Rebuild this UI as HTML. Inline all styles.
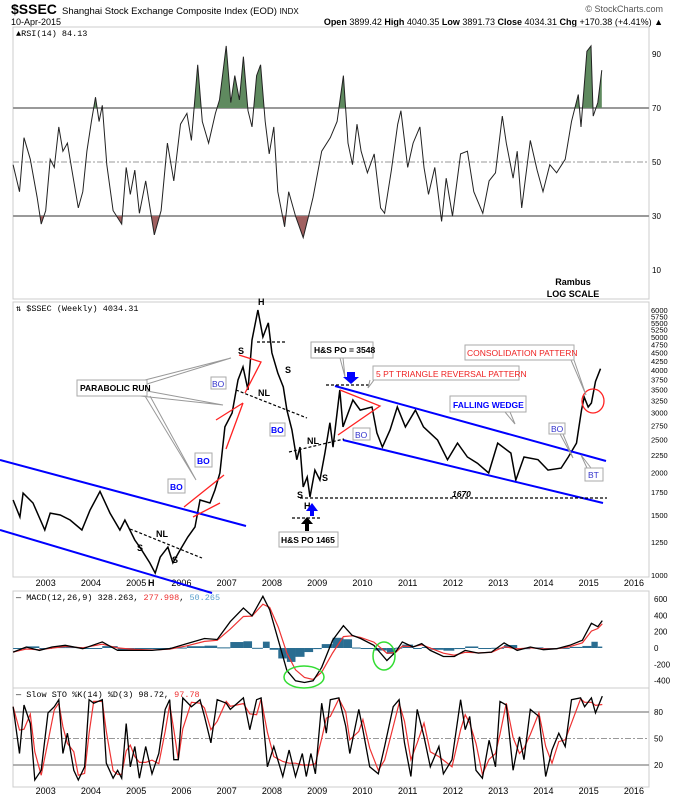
<!DOCTYPE html>
<html><head><meta charset="utf-8"><style>
body{margin:0;background:#fff;}
svg{display:block;font-family:"Liberation Sans",sans-serif;}
</style></head><body>
<svg id="chart" width="674" height="800" viewBox="0 0 674 800" xmlns="http://www.w3.org/2000/svg">
<g>
<text x="11" y="14" font-size="14" font-weight="bold">$SSEC</text>
<text x="62" y="14" font-size="9.5">Shanghai Stock Exchange Composite Index (EOD) <tspan font-size="8">INDX</tspan></text>
<text x="11" y="25" font-size="9">10-Apr-2015</text>
<text x="663" y="12" font-size="9" fill="#555" text-anchor="end">© StockCharts.com</text>
<text x="663" y="25" font-size="9" text-anchor="end"><tspan font-weight="bold">Open</tspan> 3899.42 <tspan font-weight="bold">High</tspan> 4040.35 <tspan font-weight="bold">Low</tspan> 3891.73 <tspan font-weight="bold">Close</tspan> 4034.31 <tspan font-weight="bold">Chg</tspan> +170.38 (+4.41%) ▲</text>
</g>
<rect x="13" y="27" width="636" height="272" fill="none" stroke="#ccc"/>
<rect x="13" y="302" width="636" height="275" fill="none" stroke="#ccc"/>
<rect x="13" y="591" width="636" height="97" fill="none" stroke="#ccc"/>
<rect x="13" y="688" width="636" height="99" fill="none" stroke="#ccc"/>
<g id="dyn"></g>
</svg>
<script>
// ---------- DATA ----------
const priceDates=[2002.28,2002.43,2002.50,2002.72,2002.98,2003.10,2003.32,2003.54,2003.80,2003.98,2004.20,2004.42,2004.64,2004.75,2004.97,2005.08,2005.30,2005.42,2005.53,2005.70,2005.81,2005.97,2006.14,2006.30,2006.41,2006.63,2006.74,2006.85,2006.96,2007.12,2007.25,2007.36,2007.47,2007.56,2007.69,2007.80,2007.92,2008.00,2008.13,2008.25,2008.33,2008.44,2008.55,2008.62,2008.69,2008.78,2008.84,2008.95,2009.06,2009.17,2009.28,2009.35,2009.50,2009.57,2009.79,2009.95,2010.21,2010.32,2010.44,2010.61,2010.77,2010.95,2011.17,2011.35,2011.66,2011.88,2012.10,2012.32,2012.54,2012.79,2012.99,2013.28,2013.39,2013.57,2013.88,2014.10,2014.39,2014.55,2014.73,2014.84,2014.90,2014.99,2015.06,2015.15,2015.26];
const priceValues=[1660,1480,1740,1627,1356,1520,1500,1450,1356,1550,1760,1520,1356,1450,1267,1208,1085,1013,1129,1208,1085,1184,1293,1383,1660,1627,1775,1993,2722,2990,3737,4085,3494,4900,6000,5000,5500,4490,3920,3565,3050,2670,2180,2375,1813,1940,1695,2033,1900,2280,2800,2375,3494,2722,3265,3050,3115,2614,2375,2670,3115,2722,3050,2722,2490,2180,2440,2220,2130,1993,2440,2280,1900,2220,2180,2033,2060,2220,2440,3050,3330,3115,3200,3700,4034];
const priceTicks=[1000,1250,1500,1750,2000,2250,2500,2750,3000,3250,3500,3750,4000,4250,4500,4750,5000,5250,5500,5750,6000];
const yearTicks=[2003,2004,2005,2006,2007,2008,2009,2010,2011,2012,2013,2014,2015,2016];

const rsiDates=[2002.28,2002.42,2002.52,2002.66,2002.81,2002.90,2003.0,2003.10,2003.19,2003.29,2003.38,2003.48,2003.58,2003.72,2003.82,2003.91,2004.01,2004.10,2004.18,2004.25,2004.35,2004.49,2004.68,2004.78,2004.87,2004.97,2005.07,2005.21,2005.40,2005.55,2005.69,2005.83,2005.98,2006.12,2006.22,2006.36,2006.46,2006.60,2006.75,2006.84,2006.99,2007.09,2007.18,2007.28,2007.37,2007.47,2007.56,2007.66,2007.75,2007.85,2007.94,2008.04,2008.13,2008.28,2008.37,2008.52,2008.69,2008.81,2008.91,2009.10,2009.29,2009.44,2009.58,2009.68,2009.78,2009.88,2009.97,2010.11,2010.26,2010.40,2010.49,2010.64,2010.78,2010.85,2011.0,2011.12,2011.27,2011.36,2011.46,2011.60,2011.75,2011.85,2011.99,2012.17,2012.32,2012.46,2012.66,2012.80,2012.94,2013.09,2013.18,2013.33,2013.42,2013.52,2013.71,2013.86,2013.99,2014.14,2014.29,2014.48,2014.62,2014.77,2014.83,2014.96,2015.05,2015.10,2015.20,2015.29];
const rsiValues=[49,39,59,51,37,27,32,51,48,63,54,57,47,33,39,54,65,74,65,71,49,32,27,48,38,47,31,43,23,32,57,43,64,68,58,86,65,57,68,73,93,72,82,73,89,69,63,82,86,65,53,63,39,26,39,30,22,30,37,54,59,65,82,57,49,64,54,46,53,33,31,47,64,69,48,57,63,48,38,48,28,44,30,53,54,39,31,43,46,67,57,44,54,33,58,47,39,49,46,51,65,75,63,91,93,67,72,84];
const rsiTicks=[10,30,50,70,90];

const macdDates=[2002.28,2002.57,2002.86,2003.14,2003.43,2003.82,2004.25,2004.59,2004.97,2005.35,2005.74,2006.12,2006.51,2006.79,2007.08,2007.37,2007.56,2007.80,2007.95,2008.14,2008.33,2008.52,2008.72,2008.91,2009.10,2009.34,2009.58,2009.77,2009.96,2010.25,2010.54,2010.73,2010.88,2011.12,2011.31,2011.50,2011.79,2012.03,2012.27,2012.56,2012.85,2013.13,2013.42,2013.71,2014.00,2014.29,2014.58,2014.86,2015.06,2015.20,2015.30];
const macdValues=[-50,12,-29,12,33,-8,75,-29,-29,-29,-8,54,116,104,323,489,393,633,468,95,-277,-402,-422,-402,-236,95,273,157,116,33,-153,-50,75,12,54,-29,-104,-104,-29,-62,-50,62,-29,12,-21,-8,33,95,302,261,335];
const macdTicks=[-400,-200,0,200,400,600];

const stoDates=[2002.28,2002.42,2002.52,2002.66,2002.76,2002.90,2003.05,2003.19,2003.29,2003.38,2003.48,2003.62,2003.72,2003.86,2003.96,2004.06,2004.25,2004.34,2004.49,2004.59,2004.68,2004.78,2004.87,2004.97,2005.07,2005.21,2005.35,2005.50,2005.64,2005.74,2005.83,2005.93,2006.03,2006.22,2006.41,2006.51,2006.65,2006.79,2006.99,2007.08,2007.37,2007.51,2007.66,2007.76,2007.90,2008.04,2008.24,2008.38,2008.52,2008.67,2008.76,2008.86,2008.96,2009.10,2009.20,2009.29,2009.48,2009.63,2009.72,2009.92,2010.01,2010.16,2010.35,2010.49,2010.68,2010.81,2010.93,2011.07,2011.21,2011.36,2011.50,2011.69,2011.79,2011.98,2012.17,2012.27,2012.37,2012.51,2012.65,2012.80,2012.94,2013.04,2013.18,2013.33,2013.47,2013.57,2013.71,2013.90,2014.05,2014.19,2014.34,2014.48,2014.62,2014.82,2014.91,2015.06,2015.15,2015.30];
const stoValues=[86,33,88,67,3,14,79,86,94,33,56,14,3,18,94,90,94,22,5,14,5,67,18,41,5,41,10,33,83,94,26,26,96,86,94,75,45,94,90,83,96,60,94,96,18,41,7,37,7,33,7,33,10,90,56,94,96,64,33,83,60,18,10,41,86,94,45,7,83,52,18,41,10,26,94,60,75,14,5,48,18,92,88,14,52,26,83,75,7,37,56,41,94,96,86,96,79,98];
const stoTicks=[20,50,80];

// ---------- AXES ----------
const X0=45.7, XS=45.25;
function xOf(yr){return X0+(yr-2003)*XS;}
function yPrice(p){return 575-147.9*Math.log(p/1000);}
function yRsi(v){return 162-(v-50)*2.7;}
function yMacd(v){return 648-v*0.0817;}
function ySto(v){return 765-(v-20)*0.883;}

const NS='http://www.w3.org/2000/svg';
const root=document.getElementById('dyn');
function mk(tag,attrs,parent){const e=document.createElementNS(NS,tag);for(const k in attrs)e.setAttribute(k,attrs[k]);(parent||root).appendChild(e);return e;}
function pts(ds,vs,fy){return ds.map((d,i)=>xOf(d).toFixed(1)+','+fy(vs[i]).toFixed(1)).join(' ');}

[586,794].forEach(function(yy){yearTicks.forEach(function(yr){
 const t=mk('text',{x:xOf(yr),y:yy,'font-size':9,'text-anchor':'middle'});t.textContent=yr;
 
 
});});

// ----- RSI -----
rsiTicks.forEach(function(v){
 const l=mk('line',{x1:13,x2:649,y1:yRsi(v),y2:yRsi(v),stroke:'#999','stroke-width':(v===30||v===70)?2:1,'stroke-dasharray':v===50?'6,2,2,2':'none'});
 if(v===10||v===90){l.setAttribute('stroke','none');}
 
 
 const t=mk('text',{x:652,y:yRsi(v)+3,'font-size':8});t.textContent=v;
 
 
});
const defs=mk('defs',{});
const c1=mk('clipPath',{id:'above70'},defs);mk('rect',{x:13,y:27,width:636,height:yRsi(70)-27},c1);
const c2=mk('clipPath',{id:'below30'},defs);mk('rect',{x:13,y:yRsi(30),width:636,height:60},c2);
const rsiPts=pts(rsiDates,rsiValues,yRsi);
const fa=mk('polygon',{points:rsiPts+' '+xOf(rsiDates[rsiDates.length-1])+','+yRsi(70)+' '+xOf(rsiDates[0])+','+yRsi(70),fill:'#5f8a5f','clip-path':'url(#above70)'});


const fb=mk('polygon',{points:rsiPts+' '+xOf(rsiDates[rsiDates.length-1])+','+yRsi(30)+' '+xOf(rsiDates[0])+','+yRsi(30),fill:'#a06060','clip-path':'url(#below30)'});


const rl=mk('polyline',{points:rsiPts,fill:'none',stroke:'#222','stroke-width':1});


(function(){const t=mk('text',{x:16,y:36,'font-size':8.5,'font-family':'Liberation Mono, monospace'});t.textContent='▲RSI(14) 84.13';


const r=mk('text',{x:573,y:285,'font-size':9,'font-weight':'bold','text-anchor':'middle'});r.textContent='Rambus';


const s=mk('text',{x:573,y:297,'font-size':9,'font-weight':'bold','text-anchor':'middle'});s.textContent='LOG SCALE';

})();

// ----- PRICE -----
priceTicks.forEach(function(p){const t=mk('text',{x:651,y:yPrice(p)+3,'font-size':7.5});t.textContent=p;
 
 });
const pl=mk('polyline',{points:pts(priceDates,priceValues,yPrice),fill:'none',stroke:'#000','stroke-width':1.5});


(function(){const t=mk('text',{x:16,y:311,'font-size':8.5,'font-family':'Liberation Mono, monospace'});t.textContent='⇅ $SSEC (Weekly) 4034.31';

})();

// ----- MACD -----
macdTicks.forEach(function(v){const t=mk('text',{x:654,y:yMacd(v)+3,'font-size':8});t.textContent=v;
 
 });
const macdSignal=[];let ema=macdValues[0];
macdValues.forEach(function(v){ema=ema+0.6*(v-ema);macdSignal.push(ema);});
macdValues.forEach(function(v,i){
 if(i===macdValues.length-1)return;
 const h=(v-macdSignal[i])*0.8;const x1=xOf(macdDates[i]),x2=xOf(macdDates[i+1]);
 const r=mk('rect',{x:x1,width:x2-x1,y:Math.min(yMacd(0),yMacd(h)),height:Math.max(1,Math.abs(yMacd(h)-yMacd(0))),fill:'#2a6d91'});
 
 
});
const ms=mk('polyline',{points:pts(macdDates,macdSignal,yMacd),fill:'none',stroke:'#e33','stroke-width':1.2});


const ml=mk('polyline',{points:pts(macdDates,macdValues,yMacd),fill:'none',stroke:'#000','stroke-width':1.3});


(function(){const t=mk('text',{x:16,y:600,'font-size':8.5,'font-family':'Liberation Mono, monospace'});
t.innerHTML='— MACD(12,26,9) 328.263, <tspan fill="#e33">277.998</tspan>, <tspan fill="#5aa0cc">50.265</tspan>';


const e1=mk('ellipse',{cx:304,cy:677,rx:20,ry:11,fill:'none',stroke:'#3d3','stroke-width':1.5});


const e2=mk('ellipse',{cx:384,cy:656,rx:11,ry:14,fill:'none',stroke:'#3d3','stroke-width':1.5});

})();

// ----- STO -----
stoTicks.forEach(function(v){
 const l=mk('line',{x1:13,x2:649,y1:ySto(v),y2:ySto(v),stroke:'#999','stroke-width':v===50?1:1.5,'stroke-dasharray':v===50?'6,2,2,2':'none'});
 
 
 const t=mk('text',{x:654,y:ySto(v)+3,'font-size':8});t.textContent=v;
 
 
});
const stoD=stoValues.map(function(v,i){const a=stoValues.slice(Math.max(0,i-1),i+1);return a.reduce((s,x)=>s+x,0)/a.length;});
const sd=mk('polyline',{points:pts(stoDates,stoD,ySto),fill:'none',stroke:'#e33','stroke-width':1.2});


const sk=mk('polyline',{points:pts(stoDates,stoValues,ySto),fill:'none',stroke:'#000','stroke-width':1.3});


(function(){const t=mk('text',{x:16,y:697,'font-size':8.5,'font-family':'Liberation Mono, monospace'});
t.innerHTML='— Slow STO %K(14) %D(3) 98.72, <tspan fill="#e33">97.78</tspan>';

})();
</script>
<svg width="674" height="800" viewBox="0 0 674 800" style="position:absolute;left:0;top:0" font-family="Liberation Sans, sans-serif">
<g stroke="#00f" stroke-width="2">
<line x1="0" y1="460" x2="246" y2="526"/>
<line x1="0" y1="530" x2="212" y2="593"/>
<line x1="335" y1="386" x2="606" y2="461"/>
<line x1="343" y1="440" x2="603" y2="503"/>
</g>
<g stroke="#000" stroke-width="1.2" stroke-dasharray="3,2">
<line x1="300" y1="498" x2="607" y2="498"/>
<line x1="292" y1="518" x2="322" y2="518"/>
<line x1="326" y1="385" x2="370" y2="385"/>
<line x1="236" y1="390" x2="307" y2="418"/>
<line x1="257" y1="342" x2="285" y2="342"/>
<line x1="289" y1="452" x2="344" y2="439"/>
<line x1="130" y1="529" x2="202" y2="558"/>
</g>
<g stroke="#f22" stroke-width="1.3" fill="none">
<polyline points="239,355 261,362 245,393"/>
<line x1="216" y1="420" x2="243" y2="403"/>
<line x1="226" y1="449" x2="243" y2="403"/>
<line x1="184" y1="507" x2="224" y2="475"/>
<line x1="193" y1="517" x2="220" y2="503"/>
<polyline points="340,390 380,406 338,435"/>
<ellipse cx="593" cy="401" rx="11" ry="12"/>
</g>
<g stroke="#999" stroke-width="1" fill="none">
<polyline points="145,380 231,358 147,384" /><polyline points="140,396 223,405 147,391"/><polyline points="145,396 196,480 150,396"/>
<polyline points="340,358 345,377 343,358"/><polyline points="370,380 368,388 374,380"/><polyline points="505,412 515,424 510,412"/>
<polyline points="571,360 586,395 574,360"/><polyline points="560,434 573,458 563,434"/><polyline points="587,468 581,455 591,468"/>
</g>
<g font-size="8.5" font-weight="bold">
<rect x="77" y="380" width="70" height="16" fill="#fff" stroke="#aaa"/><text x="80" y="391">PARABOLIC RUN</text>
<rect x="311" y="342" width="62" height="16" fill="#fff" stroke="#aaa"/><text x="314" y="353">H&amp;S PO = 3548</text>
<rect x="279" y="532" width="59" height="15" fill="#fff" stroke="#aaa"/><text x="281" y="543">H&amp;S PO 1465</text>
<rect x="373" y="366" width="146" height="14" fill="#fff" stroke="#aaa"/><text x="376" y="377" fill="#e22" font-weight="normal">5 PT TRIANGLE REVERSAL PATTERN</text>
<rect x="465" y="345" width="109" height="15" fill="#fff" stroke="#aaa"/><text x="467" y="356" fill="#e22" font-weight="normal">CONSOLIDATION PATTERN</text>
<rect x="450" y="396" width="76" height="16" fill="#fff" stroke="#aaa"/><text x="453" y="408" fill="#00f">FALLING WEDGE</text>
<g fill="#00f"><rect x="211" y="377" width="15" height="12" fill="#fff" stroke="#aaa"/><text x="212" y="387" fill="#33c" font-weight="normal">BO</text>
<rect x="270" y="423" width="15" height="13" fill="#fff" stroke="#aaa"/><text x="271" y="433">BO</text>
<rect x="195" y="453" width="17" height="14" fill="#fff" stroke="#aaa"/><text x="197" y="464">BO</text>
<rect x="168" y="479" width="17" height="14" fill="#fff" stroke="#aaa"/><text x="170" y="490">BO</text>
<rect x="353" y="428" width="17" height="12" fill="#fff" stroke="#aaa"/><text x="355" y="438" fill="#33c" font-weight="normal">BO</text>
<rect x="549" y="423" width="16" height="11" fill="#fff" stroke="#aaa"/><text x="551" y="432" fill="#33c" font-weight="normal">BO</text>
<rect x="585" y="468" width="18" height="13" fill="#fff" stroke="#aaa"/><text x="588" y="478" fill="#33c" font-weight="normal">BT</text></g>
</g>
<g font-size="9" font-weight="bold">
<text x="258" y="305">H</text><text x="238" y="354">S</text><text x="285" y="373">S</text><text x="258" y="396">NL</text>
<text x="307" y="444">NL</text><text x="322" y="481">S</text><text x="297" y="498">S</text><text x="304" y="509">H</text>
<text x="156" y="537">NL</text><text x="137" y="551">S</text><text x="172" y="563">S</text><text x="148" y="586">H</text>
<text x="452" y="497" font-style="italic" font-size="8.5">1670</text>
</g>
<g>
<polygon points="347,372 355,372 355,377 359,377 351,384 343,377 347,377" fill="#00f"/>
<polygon points="314,516 310,516 310,511 306,511 312,503 318,511 314,511" fill="#00f"/>
<polygon points="305,531 309,531 309,524 313,524 307,517 301,524 305,524" fill="#000"/>
</g>
</svg>
</body></html>
